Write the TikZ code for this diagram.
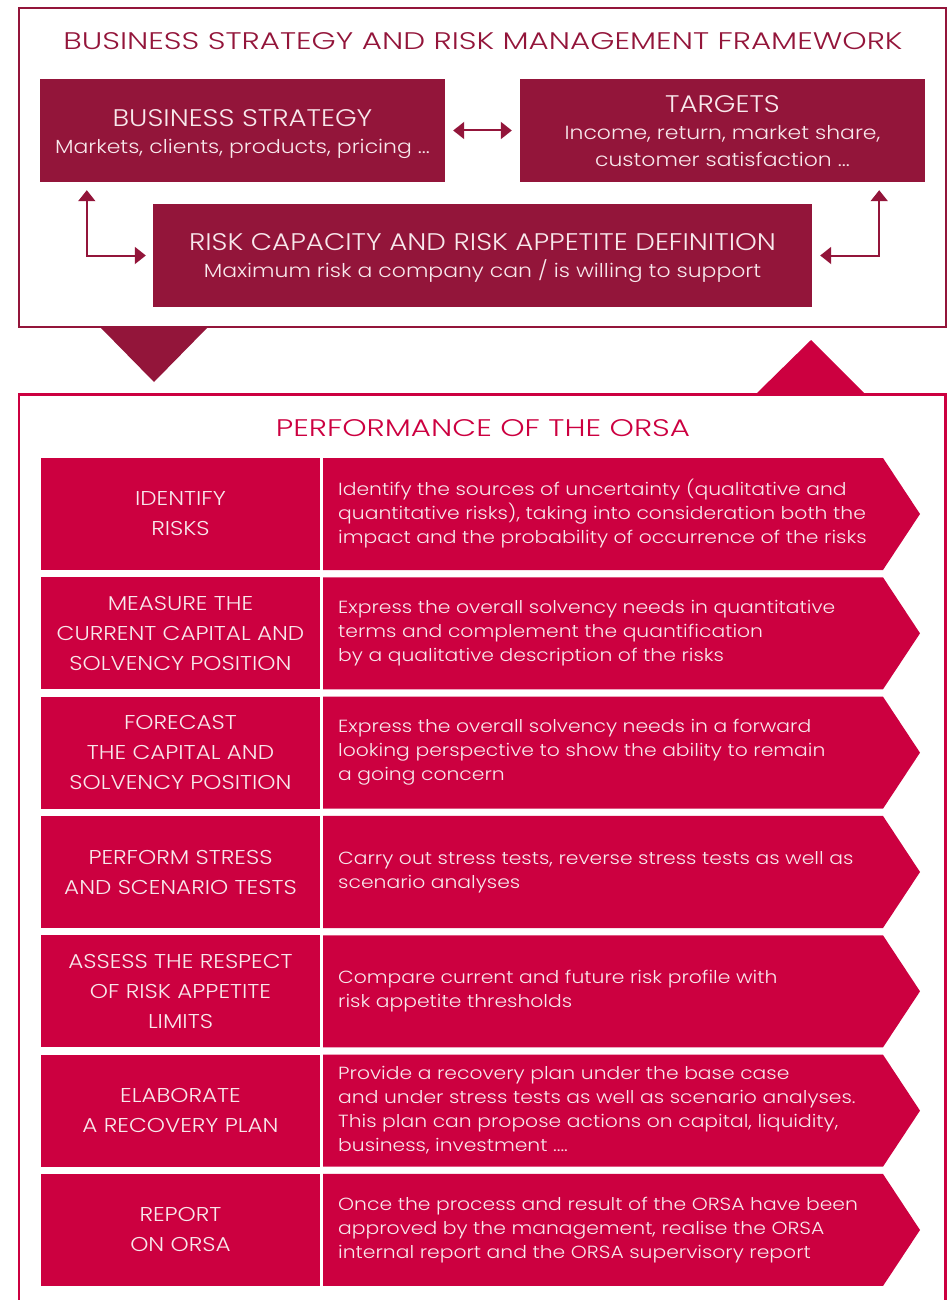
\documentclass[tikz,border=0pt]{standalone}
\usepackage{fontspec}
\setmainfont{Poppins}[UprightFont=* Light, FakeStretch=1.155]
\newfontfamily\tfont{Poppins}[UprightFont=* Light, FakeStretch=1.29]
\usetikzlibrary{arrows.meta,calc}
\definecolor{dred}{HTML}{93153A}
\definecolor{crim}{HTML}{CC0040}
\definecolor{txt}{HTML}{F8E8EC}
\begin{document}
\begin{tikzpicture}[x=1pt,y=-1pt,
  topbox/.style={fill=dred, minimum height=103pt, inner sep=0pt},
  toptext/.style={text=txt, align=center, inner sep=0pt, font=\fontsize{19}{27}\selectfont},
  arr/.style={draw=dred, line width=2pt, {Triangle[length=11pt,width=17pt]}-{Triangle[length=11pt,width=17pt]}},
  lcell/.style={fill=crim, text=txt, minimum width=279pt, minimum height=112pt, align=center, inner sep=0pt,
    font=\fontsize{20}{30}\selectfont},
  rtext/.style={text=txt, align=left, inner sep=0pt, anchor=west, font=\fontsize{17.6}{24}\selectfont}
]
\useasboundingbox (0,0) rectangle (948,1300);
% top frame
\node[draw=dred, line width=2pt, minimum width=927pt, minimum height=319pt, inner sep=0pt] (frame1) at (482.5,167.5) {};
\node[text=dred, font=\tfont\fontsize{24}{27}\selectfont, inner sep=0pt] (t1) at (483,41) {BUSINESS STRATEGY AND RISK MANAGEMENT FRAMEWORK};
\node[topbox, minimum width=405pt] (bs) at (242.5,130.5) {};
\node[toptext] (bsT) at ([yshift=-3.5pt]bs.center) {{\fontsize{24}{27}\selectfont BUSINESS STRATEGY}\\Markets, clients, products, pricing ...};
\node[topbox, minimum width=405pt] (tg) at (722.5,130.5) {};
\node[toptext] (tgT) at ([yshift=-1pt]tg.center) {{\fontsize{24}{27}\selectfont TARGETS}\\Income, return, market share,\\customer satisfaction ...};
\node[topbox, minimum width=659pt] (risk) at (482.5,255.5) {};
\node[toptext] (riskT) at ([yshift=-3pt]risk.center) {{\fontsize{24}{27}\selectfont RISK CAPACITY AND RISK APPETITE DEFINITION}\\Maximum risk a company can / is willing to support};
\draw[arr] ([xshift=8pt]bs.east) -- ([xshift=-8pt]tg.west);
\draw[arr] ([xshift=47pt,yshift=-8pt]bs.south west) |- ([xshift=-7pt]risk.west);
\draw[arr] ([xshift=-46pt,yshift=-8pt]tg.south east) |- ([xshift=8pt]risk.east);
% triangles
\fill[dred] (101,328) -- (207,328) -- (154,382) -- cycle;
\fill[crim] (757,393) -- (864,393) -- (811,340) -- cycle;
% bottom frame
\draw[crim, line width=2.5pt] (19,1305) -- (19,394.5) -- (945.5,394.5) -- (945.5,1305);
\node[text=crim, font=\tfont\fontsize{24}{27}\selectfont, inner sep=0pt] (t2) at (483,428) {PERFORMANCE OF THE ORSA};
% rows
\foreach \i/\l/\r in {
 0/{IDENTIFY\\RISKS}/{Identify the sources of uncertainty (qualitative and\\quantitative risks), taking into consideration both the\\impact and the probability of occurrence of the risks},
 1/{MEASURE THE\\CURRENT CAPITAL AND\\SOLVENCY POSITION}/{Express the overall solvency needs in quantitative\\terms and complement the quantification\\by a qualitative description of the risks},
 2/{FORECAST\\THE CAPITAL AND\\SOLVENCY POSITION}/{Express the overall solvency needs in a forward\\looking perspective to show the ability to remain\\a going concern},
 3/{PERFORM STRESS\\AND SCENARIO TESTS}/{Carry out stress tests, reverse stress tests as well as\\scenario analyses},
 4/{ASSESS THE RESPECT\\OF RISK APPETITE\\LIMITS}/{Compare current and future risk profile with\\risk appetite thresholds},
 5/{ELABORATE\\A RECOVERY PLAN}/{Provide a recovery plan under the base case\\and under stress tests as well as scenario analyses.\\This plan can propose actions on capital, liquidity,\\business, investment ....},
 6/{REPORT\\ON ORSA}/{Once the process and result of the ORSA have been\\approved by the management, realise the ORSA\\internal report and the ORSA supervisory report}}
{
  \pgfmathsetmacro\yt{458+119.33*\i}
  \pgfmathsetmacro\yc{\yt+56}
  \pgfmathsetmacro\yb{\yt+112}
  \node[lcell] (L\i) at (180.5,\yc) {\l};
  \fill[crim] (323,\yt) -- (883,\yt) -- (920,\yc) -- (883,\yb) -- (323,\yb) -- cycle;
  \node[rtext] (R\i) at (338,\yc) {\r};
}
\end{tikzpicture}
\end{document}
